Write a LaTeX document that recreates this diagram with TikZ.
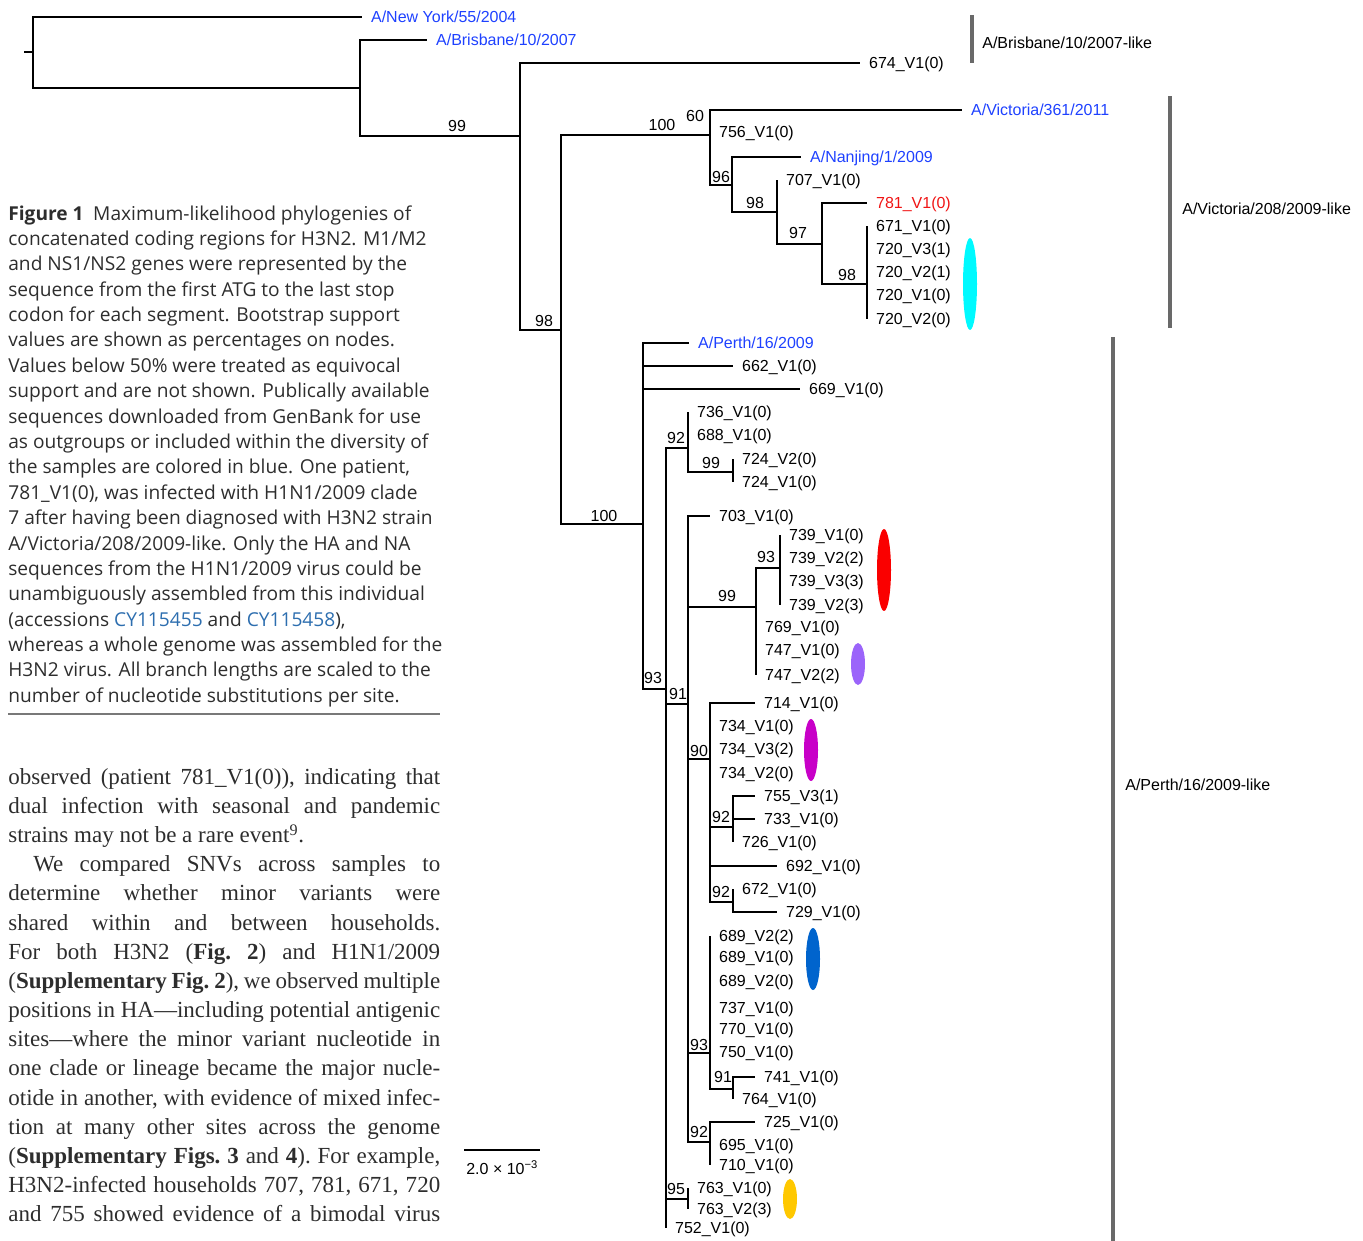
\documentclass[tikz,border=0pt]{standalone}
\usepackage{fontspec}
\setmainfont{Liberation Sans}
\newfontfamily\capfont{Open Sans}
\newfontfamily\bodyfont{Liberation Serif}
\usepackage{xcolor}
\usetikzlibrary{shapes.geometric,positioning}

\definecolor{seqblue}{RGB}{30,65,255}
\definecolor{hostred}{RGB}{240,20,20}
\definecolor{linkblue}{RGB}{45,110,175}
\definecolor{bargray}{RGB}{105,105,105}
\definecolor{rulegray}{RGB}{120,120,120}
\definecolor{capgray}{RGB}{45,45,45}
\definecolor{hhcyan}{RGB}{0,250,255}
\definecolor{hhred}{RGB}{250,0,0}
\definecolor{hhpurple}{RGB}{155,100,250}
\definecolor{hhmagenta}{RGB}{200,0,200}
\definecolor{hhblue}{RGB}{0,100,205}
\definecolor{hhyellow}{RGB}{255,200,0}

\newcommand{\treefont}{\fontsize{9.1}{11}\selectfont}

\begin{document}
\begin{tikzpicture}[x=0.02cm,y=-0.02cm,
    branch/.style={line width=0.75pt},
    leaf/.style={anchor=west,inner xsep=5pt,inner ysep=1pt,text height=8.6pt,text depth=1.9pt,font=\treefont},
    boot/.style={inner sep=0pt,font=\treefont},
    blob/.style={ellipse,draw=none,inner sep=0pt,minimum width=0.28cm},
    cladebar/.style={line width=2.8pt,draw=bargray},
    cladelbl/.style={anchor=west,inner sep=0pt,font=\treefont}]
    \useasboundingbox (0,0) rectangle (1363,1241);

    \node[anchor=north west,inner sep=0pt,align=left,text=capgray,
          font=\capfont\fontsize{10.9}{14.45}\selectfont] (caption) at (8,205) {%
        \textbf{Figure 1}\enspace Maximum-likelihood phylogenies of\\
        concatenated coding regions for H3N2. M1/M2\\
        and NS1/NS2 genes were represented by the\\
        sequence from the first ATG to the last stop\\
        codon for each segment. Bootstrap support\\
        values are shown as percentages on nodes.\\
        Values below 50\% were treated as equivocal\\
        support and are not shown. Publically available\\
        sequences downloaded from GenBank for use\\
        as outgroups or included within the diversity of\\
        the samples are colored in blue. One patient,\\
        781\_V1(0), was infected with H1N1/2009 clade\\
        7 after having been diagnosed with H3N2 strain\\
        A/Victoria/208/2009-like. Only the HA and NA\\
        sequences from the H1N1/2009 virus could be\\
        unambiguously assembled from this individual\\
        (accessions \textcolor{linkblue}{CY115455} and \textcolor{linkblue}{CY115458}),\\
        whereas a whole genome was assembled for the\\
        H3N2 virus. All branch lengths are scaled to the\\
        number of nucleotide substitutions per site.};
    \coordinate (ruleL) at (8,714);
    \coordinate (ruleR) at (440,714);
    \draw[line width=0.8pt,draw=rulegray] (ruleL) -- (ruleR);

    \node[anchor=north west,inner sep=0pt,text width=8.64cm,align=justify,text=capgray,
          font=\bodyfont\fontsize{13.1}{16.6}\selectfont\frenchspacing] (body) at (8,768) {%
        observed (patient 781\_V1(0)), indicating that\linebreak
        dual infection with seasonal and pandemic\linebreak
        strains may not be a rare event\textsuperscript{9}.\par
        \hspace*{0.5cm}We compared SNVs across samples to\linebreak
        determine whether minor variants were\linebreak
        shared within and between households.\linebreak
        For both H3N2 (\textbf{Fig. 2}) and H1N1/2009\linebreak
        (\textbf{Supplementary Fig. 2}), we observed multiple\linebreak
        positions in HA—including potential antigenic\linebreak
        sites—where the minor variant nucleotide in\linebreak
        one clade or lineage became the major nucle-\linebreak
        otide in another, with evidence of mixed infec-\linebreak
        tion at many other sites across the genome\linebreak
        (\textbf{Supplementary Figs. 3} and \textbf{4}). For example,\linebreak
        H3N2-infected households 707, 781, 671, 720\linebreak
        and 755 showed evidence of a bimodal virus\linebreak};

    \coordinate (stub) at (24,52);
    \coordinate (root) at (33,52);
    \node[leaf,text=seqblue] (lNY) at (362,17) {A/New York/55/2004};
    \coordinate (nA) at (360,88);
    \node[leaf,text=seqblue] (lBris) at (427,40) {A/Brisbane/10/2007};
    \coordinate (nB) at (520,136);
    \node[leaf] (l674) at (860,63) {674\_V1(0)};
    \coordinate (nC) at (561,330);

    \coordinate (nD) at (710,135);
    \node[leaf,text=seqblue] (lVic) at (962,110) {A/Victoria/361/2011};
    \node[leaf] (l756) at (710,132) {756\_V1(0)};
    \coordinate (nE) at (732,185);
    \node[leaf,text=seqblue] (lNan) at (801,157) {A/Nanjing/1/2009};
    \coordinate (nF) at (777,212);
    \node[leaf] (l707) at (777,180) {707\_V1(0)};
    \coordinate (nG) at (822,244);
    \node[leaf,text=hostred] (l781) at (867,203) {781\_V1(0)};
    \coordinate (nH) at (867,284);
    \node[leaf] (l671) at (867,226) {671\_V1(0)};
    \node[leaf] (l720a) at (867,249) {720\_V3(1)};
    \node[leaf] (l720b) at (867,272) {720\_V2(1)};
    \node[leaf] (l720c) at (867,295) {720\_V1(0)};
    \node[leaf] (l720d) at (867,319) {720\_V2(0)};

    \coordinate (nI) at (643,524);
    \node[leaf,text=seqblue] (lPerth) at (689,343) {A/Perth/16/2009};
    \node[leaf] (l662) at (733,366) {662\_V1(0)};
    \node[leaf] (l669) at (800,389) {669\_V1(0)};
    \coordinate (nJ) at (666,689);
    \coordinate (nL) at (688,448);
    \node[leaf] (l736) at (688,412) {736\_V1(0)};
    \node[leaf] (l688) at (688,435) {688\_V1(0)};
    \coordinate (nM) at (733,472);
    \node[leaf] (l724a) at (733,459) {724\_V2(0)};
    \node[leaf] (l724b) at (733,482) {724\_V1(0)};
    \coordinate (nK) at (688,704);
    \node[leaf] (l703) at (710,516) {703\_V1(0)};
    \coordinate (nN) at (756,607);
    \coordinate (nO) at (780,568);
    \node[leaf] (l739a) at (780,535) {739\_V1(0)};
    \node[leaf] (l739b) at (780,558) {739\_V2(2)};
    \node[leaf] (l739c) at (780,581) {739\_V3(3)};
    \node[leaf] (l739d) at (780,605) {739\_V2(3)};
    \node[leaf] (l769) at (756,627) {769\_V1(0)};
    \node[leaf] (l747a) at (756,650) {747\_V1(0)};
    \node[leaf] (l747b) at (756,675) {747\_V2(2)};
    \coordinate (nP) at (710,759);
    \node[leaf] (l714) at (755,703) {714\_V1(0)};
    \node[leaf] (l734a) at (710,726) {734\_V1(0)};
    \node[leaf] (l734b) at (710,749) {734\_V3(2)};
    \node[leaf] (l734c) at (710,773) {734\_V2(0)};
    \coordinate (nQ) at (733,827);
    \node[leaf] (l755) at (755,796) {755\_V3(1)};
    \node[leaf] (l733) at (755,819) {733\_V1(0)};
    \node[leaf] (l726) at (733,842) {726\_V1(0)};
    \node[leaf] (l692) at (777,866) {692\_V1(0)};
    \coordinate (nR) at (733,902);
    \node[leaf] (l672) at (733,889) {672\_V1(0)};
    \node[leaf] (l729) at (777,912) {729\_V1(0)};
    \coordinate (nS) at (710,1053);
    \node[leaf] (l689a) at (710,936) {689\_V2(2)};
    \node[leaf] (l689b) at (710,957) {689\_V1(0)};
    \node[leaf] (l689c) at (710,981) {689\_V2(0)};
    \node[leaf] (l737) at (710,1008) {737\_V1(0)};
    \node[leaf] (l770) at (710,1029) {770\_V1(0)};
    \node[leaf] (l750) at (710,1052) {750\_V1(0)};
    \coordinate (nT) at (733,1089);
    \node[leaf] (l741) at (755,1077) {741\_V1(0)};
    \node[leaf] (l764) at (733,1099) {764\_V1(0)};
    \coordinate (nU) at (710,1142);
    \node[leaf] (l725) at (755,1122) {725\_V1(0)};
    \node[leaf] (l695) at (710,1145) {695\_V1(0)};
    \node[leaf] (l710) at (710,1165) {710\_V1(0)};
    \coordinate (nV) at (688,1199);
    \node[leaf] (l763a) at (688,1188) {763\_V1(0)};
    \node[leaf] (l763b) at (688,1209) {763\_V2(3)};
    \node[leaf] (l752) at (666,1228) {752\_V1(0)};

    \draw[branch] (stub) -- (root);
    \draw[branch] (root) |- (lNY.west) (root) |- (nA);
    \draw[branch] (nA) |- (lBris.west) (nA) |- (nB);
    \draw[branch] (nB) |- (l674.west) (nB) |- (nC);
    \draw[branch] (nC) |- (nD) (nC) |- (nI);
    \draw[branch] (nD) |- (lVic.west) (nD) |- (l756.west) (nD) |- (nE);
    \draw[branch] (nE) |- (lNan.west) (nE) |- (nF);
    \draw[branch] (nF) |- (l707.west) (nF) |- (nG);
    \draw[branch] (nG) |- (l781.west) (nG) |- (nH);
    \draw[branch] (nH) |- (l671.west) (nH) |- (l720d.west);
    \draw[branch] (nI) |- (lPerth.west) (nI) |- (l662.west) (nI) |- (l669.west) (nI) |- (nJ);
    \draw[branch] (nJ) |- (nL) (nJ) |- (nK) (nJ) |- (nV) (nJ) |- (l752.west);
    \draw[branch] (nL) |- (l736.west) (nL) |- (nM);
    \draw[branch] (nM) |- (l724a.west) (nM) |- (l724b.west);
    \draw[branch] (nK) |- (l703.west) (nK) |- (nN) (nK) |- (nP) (nK) |- (nS) (nK) |- (nU);
    \draw[branch] (nN) |- (nO) (nN) |- (l747b.west);
    \draw[branch] (nO) |- (l739a.west) (nO) |- (l739d.west);
    \draw[branch] (nP) |- (l714.west) (nP) |- (nQ) (nP) |- (l692.west) (nP) |- (nR);
    \draw[branch] (nQ) |- (l755.west) (nQ) |- (l733.west) (nQ) |- (l726.west);
    \draw[branch] (nR) |- (l672.west) (nR) |- (l729.west);
    \draw[branch] (nS) |- (l689a.west) (nS) |- (nT);
    \draw[branch] (nT) |- (l741.west) (nT) |- (l764.west);
    \draw[branch] (nU) |- (l725.west) (nU) |- (l710.west);
    \draw[branch] (nV) |- (l763a.west) (nV) |- (l763b.west);

    \node[boot] (bA) at (457,126) {99};
    \node[boot] (bB) at (544,321) {98};
    \node[boot] (bC) at (662,125) {100};
    \node[boot] (bI) at (604,516) {100};
    \node[boot] (bD) at (695,116) {60};
    \node[boot] (bE) at (721,177) {96};
    \node[boot] (bF) at (755,203) {98};
    \node[boot] (bG) at (798,233) {97};
    \node[boot] (bH) at (847,275) {98};
    \node[boot] (bJ) at (653,678) {93};
    \node[boot] (bL) at (676,438) {92};
    \node[boot] (bM) at (711,463) {99};
    \node[boot] (bK) at (678,694) {91};
    \node[boot] (bN) at (727,596) {99};
    \node[boot] (bO) at (766,557) {93};
    \node[boot] (bP) at (699,751) {90};
    \node[boot] (bQ) at (721,817) {92};
    \node[boot] (bR) at (721,892) {92};
    \node[boot] (bS) at (699,1045) {93};
    \node[boot] (bT) at (723,1077) {91};
    \node[boot] (bU) at (699,1132) {92};
    \node[boot] (bV) at (676,1189) {95};

    \node[blob,fill=hhcyan,minimum height=1.84cm] (e720) at (970,284) {};
    \node[blob,fill=hhred,minimum height=1.64cm] (e739) at (884,570) {};
    \node[blob,fill=hhpurple,minimum height=0.84cm] (e747) at (858,664) {};
    \node[blob,fill=hhmagenta,minimum height=1.24cm] (e734) at (811,750) {};
    \node[blob,fill=hhblue,minimum height=1.24cm] (e689) at (813,959) {};
    \node[blob,fill=hhyellow,minimum height=0.80cm] (e763) at (790,1199) {};

    \draw[cladebar] (972,15) -- (972,63);
    \node[cladelbl] (cBris) at (982,43) {A/Brisbane/10/2007-like};
    \draw[cladebar] (1170,96) -- (1170,328);
    \node[cladelbl] (cVic) at (1182,209) {A/Victoria/208/2009-like};
    \draw[cladebar] (1113,337) -- (1113,1241);
    \node[cladelbl] (cPerth) at (1125,785) {A/Perth/16/2009-like};

    \coordinate (sbL) at (464,1150);
    \coordinate (sbR) at (540,1150);
    \draw[branch] (sbL) -- (sbR);
    \node[boot,anchor=north west] (sbLbl) at (466,1160) {2.0 × 10\textsuperscript{−3}};
\end{tikzpicture}
\end{document}
